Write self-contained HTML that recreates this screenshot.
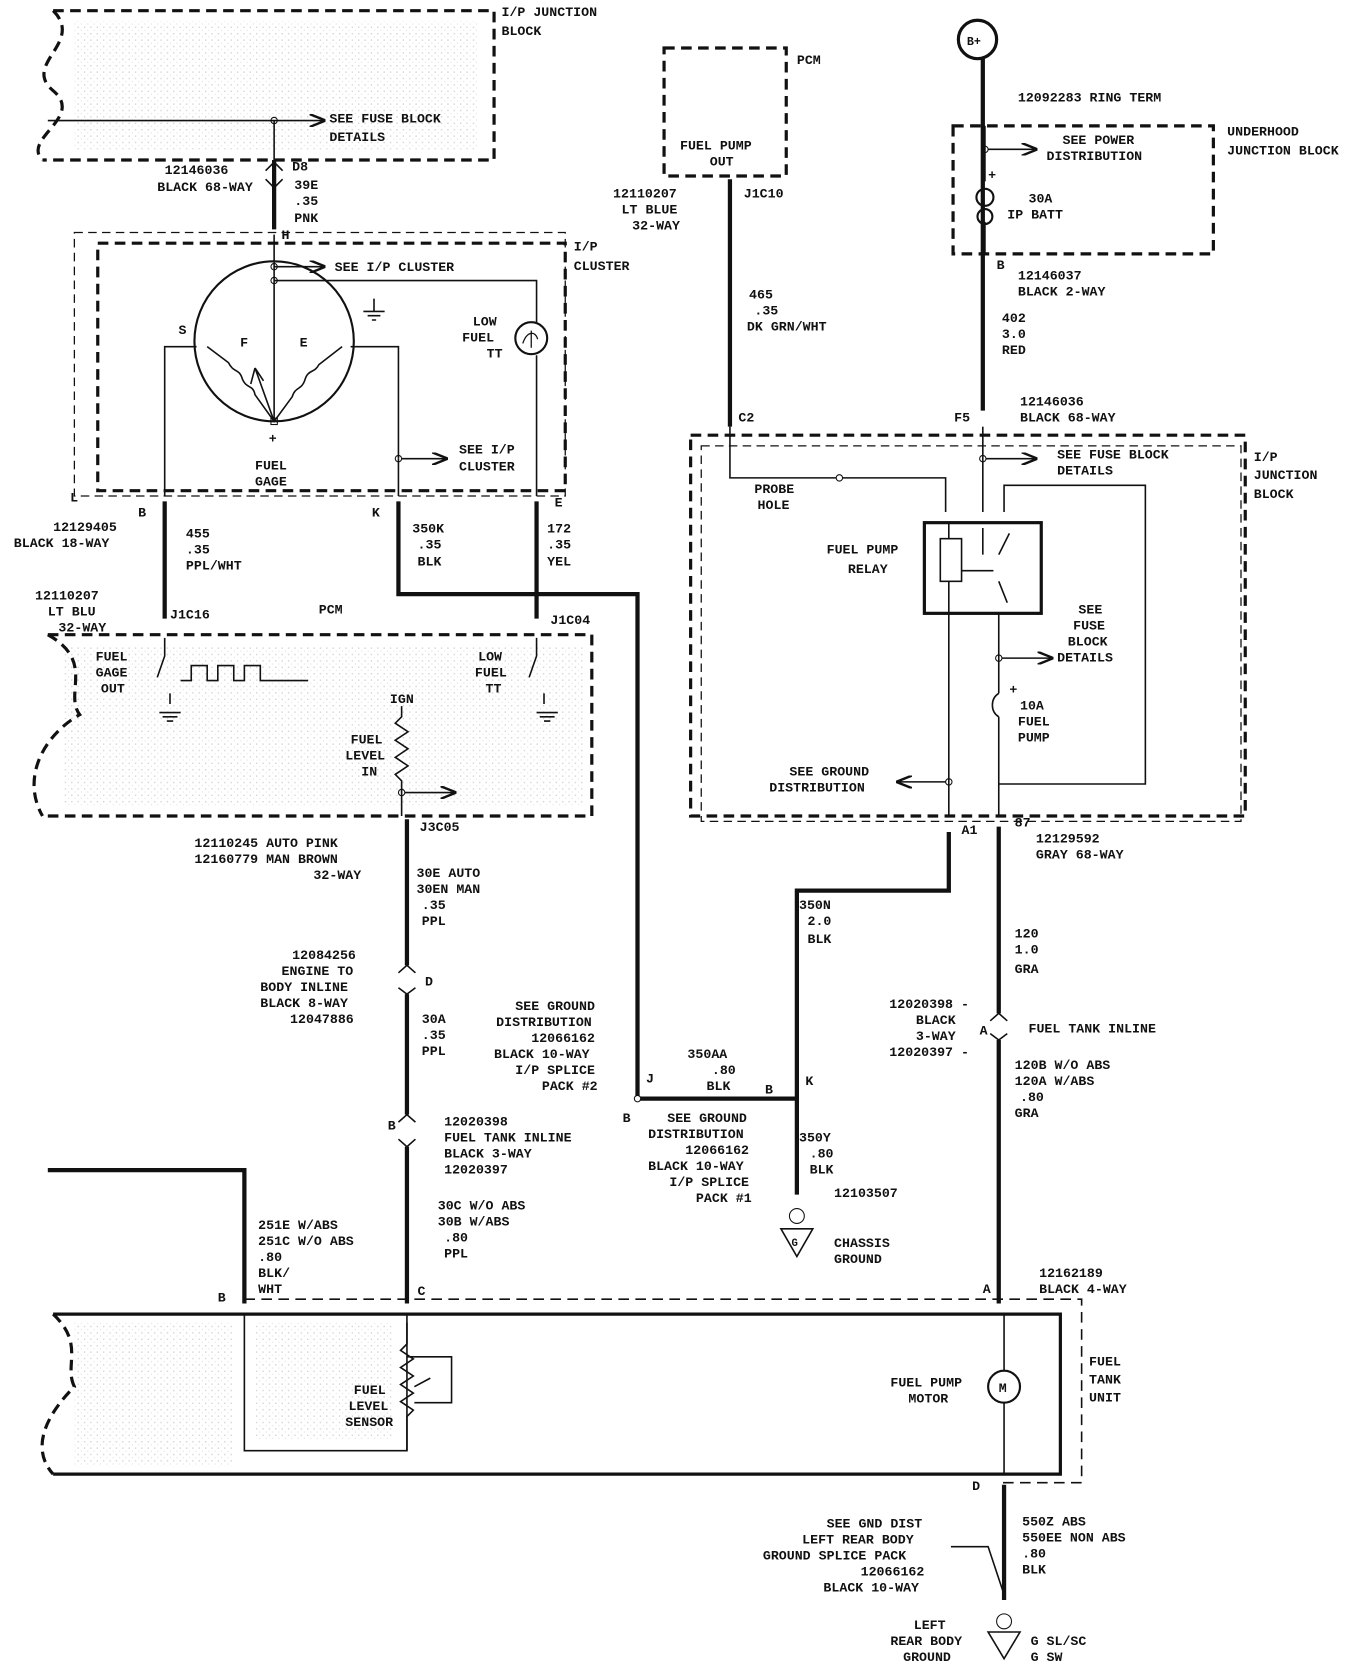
<!DOCTYPE html>
<html><head><meta charset="utf-8"><style>
html,body{margin:0;padding:0;background:#fff;}
svg{display:block}
text{font-family:"Liberation Mono",monospace;font-weight:bold;font-size:12.5px;fill:#111}
</style></head><body>
<svg width="1360" height="1664" viewBox="0 0 1280 1560" preserveAspectRatio="none" xmlns="http://www.w3.org/2000/svg">
<defs>
<marker id="ar" markerWidth="10" markerHeight="8" refX="9" refY="4" orient="auto"><path d="M0,0 L10,4 L0,8" fill="none" stroke="#111" stroke-width="1.5"/></marker>
<pattern id="dots" width="6" height="6" patternUnits="userSpaceOnUse"><rect x="1" y="1" width="1.2" height="1.2" fill="#999"/><rect x="4" y="4" width="1" height="1" fill="#bbb"/></pattern>
</defs>
<g opacity="0.5">
<rect x="70" y="20" width="380" height="120" fill="url(#dots)"/>
<rect x="60" y="605" width="490" height="150" fill="url(#dots)"/>
<rect x="70" y="1240" width="150" height="135" fill="url(#dots)"/>
<rect x="240" y="1240" width="130" height="110" fill="url(#dots)"/>
</g>
<g fill="none" stroke="#111">
<path d="M50,10 H465 V150 H40" stroke-width="3" stroke-dasharray="10,6"/>
<path d="M50,10 C80,40 20,60 50,85 C80,110 20,130 40,150" stroke-width="3" stroke-dasharray="10,6"/>
<path d="M45,113 H305" stroke-width="1.5" marker-end="url(#ar)"/>
<circle cx="258" cy="113" r="3"/>
<path d="M258,113 V150" stroke-width="1.5"/>
<path d="M258,150 V215" stroke-width="4"/>
<path d="M250,160 L258,152 L266,160 M250,168 L258,176 L266,168" stroke-width="1.5"/>
<path d="M70,218 H532 V465 H70 Z" stroke-width="1.2" stroke-dasharray="8,5"/>
<path d="M92,228 H532 V460 H92 Z" stroke-width="3" stroke-dasharray="10,6"/>
<path d="M258,220 V395" stroke-width="1.5"/>
<circle cx="258" cy="250" r="3"/><path d="M258,250 H305" stroke-width="1.5" marker-end="url(#ar)"/>
<circle cx="258" cy="263" r="3"/>
<path d="M258,263 H505 V302" stroke-width="1.5"/>
<circle cx="500" cy="317" r="15" stroke-width="2"/>
<path d="M492,322 C496,310 504,310 506,318 M500,310 V326" stroke-width="1.2"/>
<path d="M505,333 V465" stroke-width="1.5"/>
<circle cx="258" cy="320" r="75" stroke-width="2"/>
<path d="M195,325 L215,340 C220,350 225,345 228,355 C232,365 238,360 240,370 L258,395 L275,372 C278,362 284,366 287,356 C290,346 296,350 300,342 L322,325" stroke-width="1.5"/>
<path d="M258,395 L240,345 M240,345 L236,360 M240,345 L248,357" stroke-width="1.5"/>
<rect x="255" y="392" width="6" height="6"/>
<path d="M185,325 H155 V465" stroke-width="1.5"/>
<path d="M330,325 H375 V430" stroke-width="1.5"/>
<circle cx="375" cy="430" r="3"/><path d="M378,430 H420" stroke-width="1.5" marker-end="url(#ar)"/>
<path d="M375,430 V465" stroke-width="1.5"/>
<path d="M352,280 V292 M342,292 H362 M346,296 H358 M350,300 H354" stroke-width="1.5"/>
<path d="M155,470 V580" stroke-width="4"/>
<path d="M375,470 V557 H600 V1030 H750" stroke-width="4"/>
<path d="M505,470 V580" stroke-width="4"/>
<path d="M45,595 H557 V765 H40" stroke-width="3" stroke-dasharray="10,6"/>
<path d="M45,595 C90,620 60,650 75,670 C40,690 20,730 40,765" stroke-width="3" stroke-dasharray="10,6"/>
<path d="M155,598 V615 L148,635 M160,650 V660" stroke-width="1.5"/>
<path d="M150,668 H170 M153,672 H167 M157,676 H163" stroke-width="1.5"/>
<path d="M170,638 H180 V624 H195 V638 H205 V624 H220 V638 H230 V624 H245 V638 H290" stroke-width="1.5"/>
<path d="M505,598 V615 L498,635 M512,650 V660" stroke-width="1.5"/>
<path d="M505,668 H525 M508,672 H522 M512,676 H518" stroke-width="1.5"/>
<path d="M378,662 V672 L372,678 L384,686 L372,694 L384,702 L372,710 L384,718 L372,726 L378,732 V765" stroke-width="1.5"/>
<circle cx="378" cy="743" r="3"/><path d="M381,743 H428" stroke-width="1.5" marker-end="url(#ar)"/>
<path d="M383,768 V905 M383,932 V1045 M383,1075 V1222" stroke-width="4"/>
<path d="M375,912 L383,905 L391,912 M375,926 L383,932 L391,926" stroke-width="1.5"/>
<path d="M375,1052 L383,1045 L391,1052 M375,1068 L383,1075 L391,1068" stroke-width="1.5"/>
<path d="M45,1097 H230 V1222" stroke-width="4"/>
<path d="M230,1218 H1018 V1390 H940" stroke-width="1.5" stroke-dasharray="10,6"/>
<path d="M50,1232 H998 V1382 H50" stroke-width="3"/>
<path d="M50,1232 C80,1260 60,1280 70,1300 C40,1330 30,1360 50,1382" stroke-width="3" stroke-dasharray="10,6"/>
<path d="M230,1232 V1360 H383 V1232" stroke-width="1.5"/>
<path d="M383,1240 V1260 L377,1266 L389,1274 L377,1282 L389,1290 L377,1298 L389,1306 L377,1314 L389,1322 L383,1328 V1360" stroke-width="1.5"/>
<path d="M390,1300 L405,1292 M383,1272 H425 V1315 H390" stroke-width="1.5"/>
<path d="M945,1232 V1285 M945,1315 V1382" stroke-width="1.5"/>
<circle cx="945" cy="1300" r="15" stroke-width="2"/>
<path d="M625,45 H740 V165 H625 Z" stroke-width="3" stroke-dasharray="10,6"/>
<path d="M687,168 V400" stroke-width="4"/>
<circle cx="920" cy="37" r="18" stroke-width="3"/>
<path d="M925,55 V385" stroke-width="4"/>
<path d="M897,118 H1142 V238 H897 Z" stroke-width="3" stroke-dasharray="10,6"/>
<path d="M927,118 V170 M927,208 V238" stroke-width="1.5"/>
<circle cx="927" cy="140" r="3"/><path d="M930,140 H975" stroke-width="1.5" marker-end="url(#ar)"/>
<circle cx="927" cy="185" r="8" stroke-width="2"/><circle cx="927" cy="203" r="7" stroke-width="2"/>
<path d="M650,408 H1172 V765 H650 Z" stroke-width="3" stroke-dasharray="10,6"/>
<path d="M660,418 H1168 V770 H660 Z" stroke-width="1.2" stroke-dasharray="8,5"/>
<path d="M687,400 V448 H890 V480" stroke-width="1.5"/>
<circle cx="790" cy="448" r="3" fill="#fff"/>
<path d="M925,400 V480" stroke-width="1.5"/>
<circle cx="925" cy="430" r="3"/><path d="M928,430 H975" stroke-width="1.5" marker-end="url(#ar)"/>
<path d="M945,480 V455 H1078 V735 H940" stroke-width="1.5"/>
<rect x="870" y="490" width="110" height="85" stroke-width="3"/>
<rect x="885" y="505" width="20" height="40" stroke-width="1.5"/>
<path d="M893,490 V505 M893,545 V575 M925,495 V520 M940,520 L950,500 M940,545 L948,565 M905,535 H935" stroke-width="1.5"/>
<path d="M893,575 V765" stroke-width="1.5"/>
<circle cx="893" cy="733" r="3"/><path d="M890,733 H845" stroke-width="1.5" marker-end="url(#ar)"/>
<path d="M940,575 V650 M940,672 V765" stroke-width="1.5"/>
<circle cx="940" cy="617" r="3"/><path d="M943,617 H990" stroke-width="1.5" marker-end="url(#ar)"/>
<path d="M940,650 C932,655 932,667 940,672" stroke-width="1.5"/>
<path d="M893,780 V835 H750 V1120" stroke-width="4"/>
<circle cx="600" cy="1030" r="3" fill="#fff"/>
<circle cx="750" cy="1140" r="7" stroke-width="1"/>
<path d="M735,1152 H765 L750,1178 Z" stroke-width="1.5"/>
<path d="M940,775 V950 M940,975 V1222" stroke-width="4"/>
<path d="M932,957 L940,950 L948,957 M932,969 L940,975 L948,969" stroke-width="1.5"/>
<path d="M945,1392 V1500" stroke-width="4"/>
<path d="M895,1450 H930 L945,1495" stroke-width="1.5"/>
<circle cx="945" cy="1520" r="7" stroke-width="1"/>
<path d="M930,1530 H960 L945,1555 Z" stroke-width="1.5"/>
</g>
<g>
<text x="472" y="15">I/P JUNCTION</text><text x="472" y="33">BLOCK</text>
<text x="310" y="115">SEE FUSE BLOCK</text><text x="310" y="132">DETAILS</text>
<text x="155" y="163">12146036</text><text x="148" y="179">BLACK 68-WAY</text>
<text x="275" y="160">D8</text><text x="277" y="177">39E</text><text x="277" y="192">.35</text><text x="277" y="208">PNK</text>
<text x="265" y="224">H</text>
<text x="540" y="235">I/P</text><text x="540" y="253">CLUSTER</text>
<text x="315" y="254">SEE I/P CLUSTER</text>
<text x="445" y="305">LOW</text><text x="435" y="320">FUEL</text><text x="458" y="335">TT</text>
<text x="168" y="313">S</text><text x="226" y="325">F</text><text x="282" y="325">E</text><text x="253" y="415">+</text>
<text x="240" y="440">FUEL</text><text x="240" y="455">GAGE</text>
<text x="432" y="425">SEE I/P</text><text x="432" y="441">CLUSTER</text>
<text x="130" y="484">B</text><text x="66" y="470">L</text><text x="350" y="484">K</text><text x="522" y="475">E</text>
<text x="50" y="498">12129405</text><text x="13" y="513">BLACK 18-WAY</text>
<text x="175" y="504">455</text><text x="175" y="519">.35</text><text x="175" y="534">PPL/WHT</text>
<text x="388" y="499">350K</text><text x="393" y="514">.35</text><text x="393" y="530">BLK</text>
<text x="515" y="499">172</text><text x="515" y="514">.35</text><text x="515" y="530">YEL</text>
<text x="33" y="562">12110207</text><text x="45" y="577">LT BLU</text><text x="55" y="592">32-WAY</text>
<text x="160" y="580">J1C16</text><text x="300" y="575">PCM</text><text x="518" y="585">J1C04</text>
<text x="90" y="619">FUEL</text><text x="90" y="634">GAGE</text><text x="95" y="649">OUT</text>
<text x="450" y="619">LOW</text><text x="447" y="634">FUEL</text><text x="457" y="649">TT</text>
<text x="367" y="659">IGN</text>
<text x="330" y="697">FUEL</text><text x="325" y="712">LEVEL</text><text x="340" y="727">IN</text>
<text x="395" y="779">J3C05</text>
<text x="183" y="794">12110245 AUTO PINK</text><text x="183" y="809">12160779 MAN BROWN</text><text x="295" y="824">32-WAY</text>
<text x="392" y="822">30E AUTO</text><text x="392" y="837">30EN MAN</text><text x="397" y="852">.35</text><text x="397" y="867">PPL</text>
<text x="275" y="899">12084256</text><text x="265" y="914">ENGINE TO</text><text x="245" y="929">BODY INLINE</text><text x="245" y="944">BLACK 8-WAY</text><text x="273" y="959">12047886</text>
<text x="400" y="924">D</text>
<text x="397" y="959">30A</text><text x="397" y="974">.35</text><text x="397" y="989">PPL</text>
<text x="365" y="1059">B</text>
<text x="418" y="1055">12020398</text><text x="418" y="1070">FUEL TANK INLINE</text><text x="418" y="1085">BLACK 3-WAY</text><text x="418" y="1100">12020397</text>
<text x="412" y="1134">30C W/O ABS</text><text x="412" y="1149">30B W/ABS</text><text x="418" y="1164">.80</text><text x="418" y="1179">PPL</text>
<text x="243" y="1152">251E W/ABS</text><text x="243" y="1167">251C W/O ABS</text><text x="243" y="1182">.80</text><text x="243" y="1197">BLK/</text><text x="243" y="1212">WHT</text>
<text x="205" y="1220">B</text><text x="393" y="1214">C</text>
<text x="333" y="1307">FUEL</text><text x="328" y="1322">LEVEL</text><text x="325" y="1337">SENSOR</text>
<text x="940" y="1305">M</text>
<text x="838" y="1300">FUEL PUMP</text><text x="855" y="1315">MOTOR</text>
<text x="1025" y="1280">FUEL</text><text x="1025" y="1297">TANK</text><text x="1025" y="1314">UNIT</text>
<text x="750" y="60">PCM</text>
<text x="640" y="140">FUEL PUMP</text><text x="668" y="155">OUT</text>
<text x="577" y="185">12110207</text><text x="585" y="200">LT BLUE</text><text x="595" y="215">32-WAY</text>
<text x="700" y="185">J1C10</text>
<text x="705" y="280">465</text><text x="710" y="295">.35</text><text x="703" y="310">DK GRN/WHT</text>
<text x="695" y="395">C2</text>
<text x="910" y="42" style="font-size:11px">B+</text>
<text x="958" y="95">12092283  RING TERM</text>
<text x="1000" y="135">SEE POWER</text><text x="985" y="150">DISTRIBUTION</text>
<text x="1155" y="127">UNDERHOOD</text><text x="1155" y="145">JUNCTION BLOCK</text>
<text x="930" y="168">+</text>
<text x="968" y="190">30A</text><text x="948" y="205">IP BATT</text>
<text x="938" y="252">B</text>
<text x="958" y="262">12146037</text><text x="958" y="277">BLACK 2-WAY</text>
<text x="943" y="302">402</text><text x="943" y="317">3.0</text><text x="943" y="332">RED</text>
<text x="960" y="380">12146036</text><text x="960" y="395">BLACK 68-WAY</text>
<text x="898" y="395">F5</text>
<text x="995" y="430">SEE FUSE BLOCK</text><text x="995" y="445">DETAILS</text>
<text x="1180" y="432">I/P</text><text x="1180" y="449">JUNCTION</text><text x="1180" y="467">BLOCK</text>
<text x="710" y="462">PROBE</text><text x="713" y="477">HOLE</text>
<text x="778" y="519">FUEL PUMP</text><text x="798" y="537">RELAY</text>
<text x="1015" y="575">SEE</text><text x="1010" y="590">FUSE</text><text x="1005" y="605">BLOCK</text><text x="995" y="620">DETAILS</text>
<text x="950" y="650">+</text>
<text x="960" y="665">10A</text><text x="958" y="680">FUEL</text><text x="958" y="695">PUMP</text>
<text x="743" y="727">SEE GROUND</text><text x="724" y="742">DISTRIBUTION</text>
<text x="905" y="782">A1</text><text x="955" y="775">87</text>
<text x="975" y="790">12129592</text><text x="975" y="805">GRAY 68-WAY</text>
<text x="752" y="852">350N</text><text x="760" y="867">2.0</text><text x="760" y="884">BLK</text>
<text x="955" y="879">120</text><text x="955" y="894">1.0</text><text x="955" y="912">GRA</text>
<text x="837" y="945">12020398 -</text><text x="862" y="960">BLACK</text><text x="862" y="975">3-WAY</text><text x="837" y="990">12020397 -</text>
<text x="922" y="970">A</text><text x="968" y="968">FUEL TANK INLINE</text>
<text x="955" y="1002">120B W/O ABS</text><text x="955" y="1017">120A W/ABS</text><text x="960" y="1032">.80</text><text x="955" y="1047">GRA</text>
<text x="485" y="947">SEE GROUND</text><text x="467" y="962">DISTRIBUTION</text><text x="500" y="977">12066162</text><text x="465" y="992">BLACK 10-WAY</text><text x="485" y="1007">I/P SPLICE</text><text x="510" y="1022">PACK #2</text>
<text x="647" y="992">350AA</text><text x="670" y="1007">.80</text><text x="665" y="1022">BLK</text>
<text x="608" y="1015">J</text><text x="720" y="1025">B</text><text x="758" y="1017">K</text><text x="586" y="1052">B</text>
<text x="628" y="1052">SEE GROUND</text><text x="610" y="1067">DISTRIBUTION</text><text x="645" y="1082">12066162</text><text x="610" y="1097">BLACK 10-WAY</text><text x="630" y="1112">I/P SPLICE</text><text x="655" y="1127">PACK #1</text>
<text x="752" y="1070">350Y</text><text x="762" y="1085">.80</text><text x="762" y="1100">BLK</text>
<text x="785" y="1122">12103507</text>
<text x="745" y="1168" style="font-size:10px">G</text>
<text x="785" y="1169">CHASSIS</text><text x="785" y="1184">GROUND</text>
<text x="925" y="1212">A</text>
<text x="978" y="1197">12162189</text><text x="978" y="1212">BLACK 4-WAY</text>
<text x="915" y="1397">D</text>
<text x="962" y="1430">550Z ABS</text><text x="962" y="1445">550EE NON ABS</text><text x="962" y="1460">.80</text><text x="962" y="1475">BLK</text>
<text x="778" y="1432">SEE GND DIST</text><text x="755" y="1447">LEFT REAR BODY</text><text x="718" y="1462">GROUND SPLICE PACK</text><text x="810" y="1477">12066162</text><text x="775" y="1492">BLACK 10-WAY</text>
<text x="860" y="1527">LEFT</text><text x="838" y="1542">REAR BODY</text><text x="850" y="1557">GROUND</text>
<text x="970" y="1542">G SL/SC</text><text x="970" y="1557">G SW</text>
</g>
</svg>
</body></html>
